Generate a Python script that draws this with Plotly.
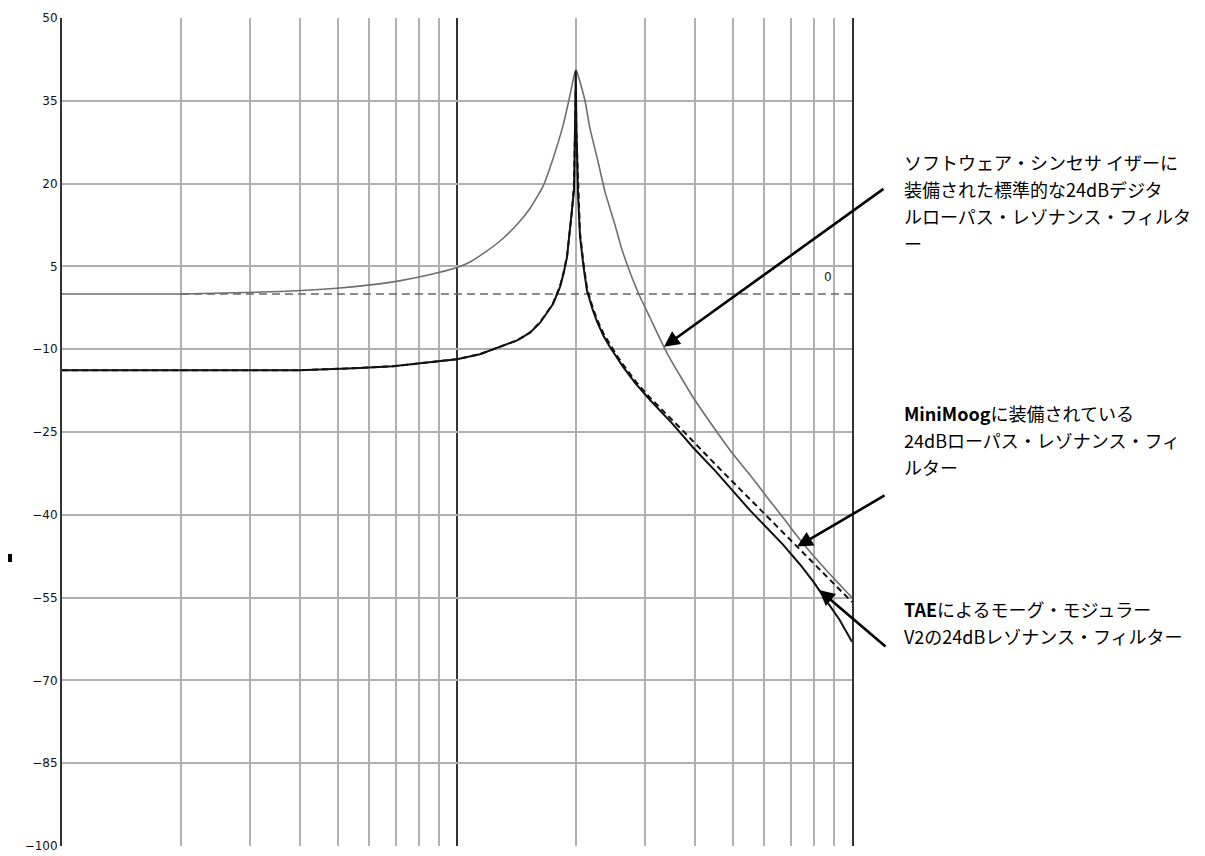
import numpy as np
import plotly.graph_objects as go

# ---------------- data ----------------
# Software synth standard 24dB digital low-pass resonant filter (grey)
freq_soft = [100, 200, 336, 505, 689, 840, 1000, 1079, 1164, 1285, 1419, 1530, 1651, 1750,
             1855, 1932, 1978, 2002, 2037, 2109, 2171, 2275, 2370, 2512, 2617, 2773, 2906,
             3081, 3401, 3959, 4500, 4996, 5519, 6094, 6689, 7386, 8600, 10000]
db_soft = [0.0, 0.0, 0.4, 1.1, 2.2, 3.4, 4.8, 5.8, 7.3, 9.6, 12.6, 15.5, 19.5, 24.5,
           30.5, 36.0, 39.5, 40.6, 39.0, 35.0, 30.0, 24.0, 18.5, 12.5, 8.0, 3.0, -0.5,
           -4.3, -10.7, -18.7, -24.5, -29.0, -32.8, -36.8, -40.5, -44.5, -50.0, -55.0]

# TAE Moog Modular V2 24dB resonant filter (solid black)
freq_tae = [100, 400, 568, 689, 840, 1000, 1143, 1285, 1420, 1530, 1623, 1690, 1750, 1823,
            1860, 1899, 1955, 1978, 1990, 1998, 2006, 2025, 2048, 2090, 2134, 2200, 2262,
            2350, 2439, 2542, 2633, 2830, 3081, 3500, 3959, 4500, 4996, 5519, 6094, 6689,
            7386, 8000, 8600, 9300, 10000]
db_tae = [-13.8, -13.8, -13.4, -13.1, -12.4, -11.8, -10.9, -9.6, -8.4, -7.0, -5.2, -3.4, -1.8, 1.3,
          3.6, 6.7, 14.7, 18.8, 30.0, 40.5, 30.0, 18.0, 10.5, 5.0, 0.6, -2.6, -5.0,
          -7.6, -9.6, -11.6, -13.2, -16.2, -19.2, -23.4, -27.8, -32.0, -35.6, -39.2, -42.4, -45.4,
          -49.0, -52.2, -55.5, -59.0, -63.0]

# MiniMoog 24dB low-pass resonant filter (dashed black)
freq_moog = [100, 400, 568, 689, 840, 1000, 1143, 1285, 1420, 1530, 1623, 1690, 1750, 1823,
             1860, 1899, 1955, 1978, 1990, 1998, 2006, 2025, 2048, 2090, 2134, 2200, 2262,
             2350, 2439, 2542, 2633, 2830, 3081, 3400, 3735, 4500, 5519, 6094, 6689, 7386,
             8600, 10000]
db_moog = [-13.8, -13.8, -13.4, -13.1, -12.4, -11.8, -10.9, -9.6, -8.4, -7.0, -5.1, -3.3, -1.7, 1.4,
           3.8, 6.9, 15.0, 20.0, 28.0, 37.0, 29.0, 19.0, 11.2, 5.6, 1.0, -2.2, -4.6,
           -7.2, -9.2, -11.2, -12.8, -15.8, -18.8, -21.8, -24.8, -30.8, -37.1, -40.3, -43.2, -46.3,
           -51.1, -55.8]

# 0 dB reference line
freq_ref = [200, 10000]
db_ref = [0, 0]

y_ticks = [50, 35, 20, 5, -10, -25, -40, -55, -70, -85, -100]
y_ticktext = ["50", "35", "20", "5", "\u221210", "\u221225", "\u221240", "\u221255",
              "\u221270", "\u221285", "\u2212100"]

label_soft = ["ソフトウェア・シンセサ イザーに", "装備された標準的な24dBデジタ",
              "ルローパス・レゾナンス・フィルタ", "ー"]
label_moog = ["<b>MiniMoog</b>に装備されている", "24dBローパス・レゾナンス・フィ", "ルター"]
label_tae = ["<b>TAE</b>によるモーグ・モジュラー", "V2の24dBレゾナンス・フィルター"]

# arrow target frequencies on each curve
arrow_f_soft = 3342
arrow_f_moog = 7260
arrow_f_tae = 8250

# ---------------- figure ----------------
W, H = 1205, 856
OFF = 8                       # page body margin of the html page
PL, PR, PT, PB = 62, 852, 18, 846   # wanted plot area on screen
PW, PH = PR - PL, PB - PT
L, T = PL - OFF, PT - OFF
R = W - L - PW
B = H - T - PH

fig = go.Figure()

fig.add_trace(go.Scatter(x=freq_ref, y=db_ref, mode="lines",
                         line=dict(color="#666666", width=1.5, dash="8px,5px"),
                         hoverinfo="skip", showlegend=False))
fig.add_trace(go.Scatter(x=freq_soft, y=db_soft, mode="lines",
                         line=dict(color="#6e6e6e", width=1.6, shape="spline", smoothing=0.5),
                         showlegend=False))
fig.add_trace(go.Scatter(x=freq_tae, y=db_tae, mode="lines",
                         line=dict(color="#111111", width=2), showlegend=False))
fig.add_trace(go.Scatter(x=freq_moog, y=db_moog, mode="lines",
                         line=dict(color="#111111", width=2, dash="6px,4px"), showlegend=False))


def px_to_paper_y(py):
    return (PB - py) / PH


def px_to_paper_x(px):
    return (px - PL) / PW


text_font = dict(family="Noto Sans CJK JP", size=18, color="#000000")
annotations = []
for lines, ys in ((label_soft, [162, 189, 216, 243]),
                  (label_moog, [413, 440, 467]),
                  (label_tae, [609, 636])):
    for txt, py in zip(lines, ys):
        annotations.append(dict(text=txt, xref="paper", yref="paper",
                                x=px_to_paper_x(902), y=px_to_paper_y(py),
                                xanchor="left", yanchor="middle", showarrow=False,
                                font=text_font))


def curve_at(f, fr, db):
    return float(np.interp(np.log10(f), np.log10(fr), db))


for f, fr, db, ax, ay in ((arrow_f_soft, freq_soft, db_soft, 221, -159),
                          (arrow_f_moog, freq_moog, db_moog, 89, -52),
                          (arrow_f_tae, freq_tae, db_tae, 68, 58)):
    annotations.append(dict(x=np.log10(f), y=curve_at(f, fr, db), xref="x", yref="y",
                            text="", showarrow=True, arrowhead=2, arrowsize=1.2,
                            arrowwidth=2.6, arrowcolor="#000000", ax=ax, ay=ay,
                            axref="pixel", ayref="pixel", standoff=0))

annotations.append(dict(text="0", x=np.log10(8690), y=3, xref="x", yref="y",
                        showarrow=False, xanchor="center", yanchor="middle",
                        font=dict(family="DejaVu Sans", size=12, color="#222222")))

fig.update_layout(
    width=W, height=H,
    margin=dict(l=L, r=R, t=T, b=B, pad=0, autoexpand=False),
    paper_bgcolor="white", plot_bgcolor="white",
    showlegend=False,
    annotations=annotations,
    shapes=[dict(type="rect", xref="paper", yref="paper",
                 x0=px_to_paper_x(8), x1=px_to_paper_x(12),
                 y0=px_to_paper_y(562), y1=px_to_paper_y(554),
                 fillcolor="#000000", line=dict(width=0))],
)

fig.update_xaxes(type="log", range=[2, 4], dtick=1, showticklabels=False, ticks="",
                 showgrid=True, gridcolor="#333333", gridwidth=2,
                 minor=dict(dtick="D1", showgrid=True, gridcolor="#b0b0b0", gridwidth=2, ticks=""),
                 showline=False, zeroline=False, fixedrange=True, automargin=False)
fig.update_yaxes(range=[-100, 50], tickvals=y_ticks, ticktext=y_ticktext,
                 showgrid=True, gridcolor="#b0b0b0", gridwidth=2,
                 zeroline=False, showline=True, linecolor="#333333", linewidth=2, mirror=True,
                 ticks="", tickfont=dict(family="DejaVu Sans", size=12, color="#111111"),
                 fixedrange=True, automargin=False)

fig.write_html("out.html")
